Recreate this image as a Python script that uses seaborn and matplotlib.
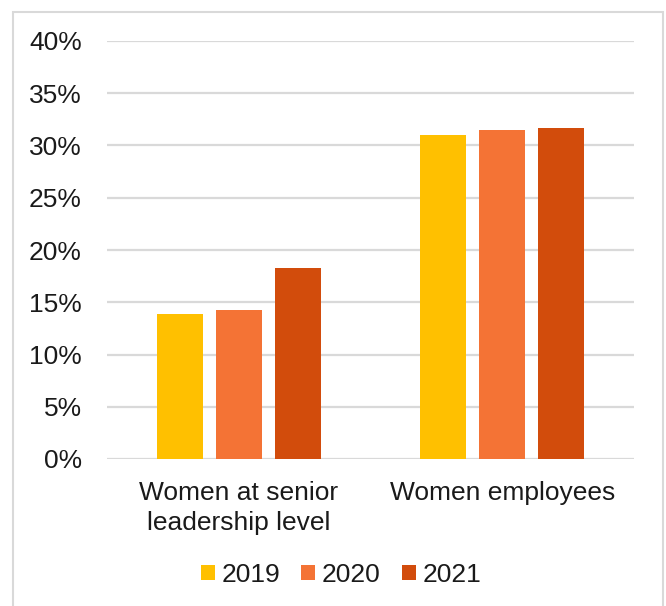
import matplotlib
matplotlib.use("Agg")
import matplotlib.pyplot as plt
import seaborn as sns
import pandas as pd
from matplotlib.patches import Rectangle

categories = ["Women at senior\nleadership level", "Women employees"]
years = ["2019", "2020", "2021"]
values_2019 = [13.9, 31.0]
values_2020 = [14.3, 31.5]
values_2021 = [18.3, 31.7]
yticks = [0, 5, 10, 15, 20, 25, 30, 35, 40]
colors = ["#FFC000", "#F47335", "#D24C0C"]

rows = []
for yr, vals in zip(years, [values_2019, values_2020, values_2021]):
    for c, v in zip(categories, vals):
        rows.append({"category": c, "year": yr, "value": v})
df = pd.DataFrame(rows)

sns.set_theme(style="white")
plt.rcParams["font.family"] = ["Liberation Sans", "DejaVu Sans"]

W, H = 666, 606
fig = plt.figure(figsize=(W / 100, H / 100), dpi=100)
ax = fig.add_axes([107 / W, 1 - 459 / H, (634 - 107) / W, (459 - 41) / H])

sns.barplot(data=df, x="category", y="value", hue="year", order=categories,
            hue_order=years, palette=colors, saturation=1, width=0.67, gap=0.22,
            linewidth=0, ax=ax, zorder=3)

ax.set_xlim(-0.5, 1.5)
ax.set_ylim(0, 40)
ax.set_yticks(yticks)
ax.set_yticklabels([f"{t}%" for t in yticks])
ax.yaxis.grid(True, color="#D9D9D9", linewidth=1.6, zorder=0)
ax.set_axisbelow(True)
for s in ax.spines.values():
    s.set_visible(False)
ax.tick_params(axis="both", length=0, labelsize=19, colors="#1a1a1a")
ax.tick_params(axis="y", pad=18)
ax.tick_params(axis="x", pad=16)
for lbl in ax.get_xticklabels():
    lbl.set_linespacing(1.28)
ax.set_xlabel("")
ax.set_ylabel("")

handles, labels = ax.get_legend_handles_labels()
if ax.legend_:
    ax.legend_.remove()
fig.legend(handles, labels, loc="center", bbox_to_anchor=(341 / W, 1 - 575 / H),
           ncol=3, frameon=False, fontsize=19, handlelength=0.53,
           handleheight=0.53, handletextpad=0.25, columnspacing=0.8,
           labelcolor="#1a1a1a")

fig.patches.append(Rectangle((13 / W, -0.01), (663 - 13) / W, 1 - 12 / H + 0.01,
                             transform=fig.transFigure, fill=False,
                             edgecolor="#D9D9D9", linewidth=1.5))

fig.savefig("out.png", dpi=100)
